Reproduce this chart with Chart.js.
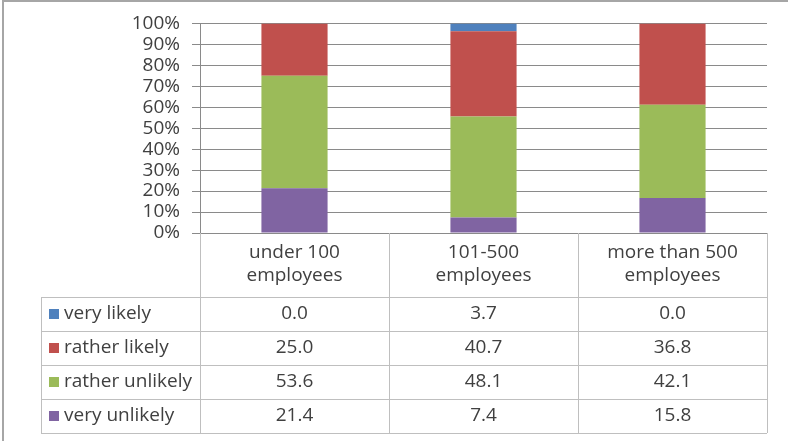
<!DOCTYPE html>
<html>
<head>
<meta charset="utf-8">
<script src="https://cdn.jsdelivr.net/npm/chart.js@4/dist/chart.umd.min.js"></script>
<style>
  html, body { margin: 0; padding: 0; background: #fff; }
  #wrap { width: 788px; height: 441px; position: relative; }
</style>
</head>
<body>
<div id="wrap"><canvas id="chart" width="788" height="441"></canvas></div>
<script>
// categories and series (values as printed in the data table, in %)
const categories = [['under 100', 'employees'], ['101-500', 'employees'], ['more than 500', 'employees']];
const veryLikely = [0.0, 3.7, 0.0];
const ratherLikely = [25.0, 40.7, 36.8];
const ratherUnlikely = [53.6, 48.1, 42.1];
const veryUnlikely = [21.4, 7.4, 15.8];
const yTicks = [0, 10, 20, 30, 40, 50, 60, 70, 80, 90, 100];

const FONT = '"Open Sans", "Liberation Sans", sans-serif';
const TEXT = '#404040';
const SIZE = 19;

// bottom to top in the stack
const series = [
    { label: 'very unlikely', data: veryUnlikely, color: '#8064A2' },
    { label: 'rather unlikely', data: ratherUnlikely, color: '#9BBB59' },
    { label: 'rather likely', data: ratherLikely, color: '#C0504D' },
    { label: 'very likely', data: veryLikely, color: '#4F81BD' },
];

// 100% stacked: share of each column total
const totals = categories.map((c, i) => series.reduce((s, d) => s + d.data[i], 0));

// ================= TABLE + FRAME =================
const dataTable = {
    id: 'dataTable',
    afterDraw(chart) {
        const ctx = chart.ctx;
        const x = chart.scales.x;
        const rowH = 34;
        const top = x.top;
        const y0 = x.bottom;
        const legendLeft = 41;
        const n = categories.length;
        const colW = (x.right - x.left) / n;

        ctx.save();
        // frame
        ctx.fillStyle = '#a6a6a6';
        ctx.fillRect(2, 0, 2, 441);
        ctx.fillRect(2, 0, 786, 2);

        ctx.strokeStyle = '#bfbfbf';
        ctx.lineWidth = 1;
        ctx.beginPath();
        for (let i = 0; i <= series.length; i++) {
            const y = Math.round(y0 + i * rowH) + 0.5;
            ctx.moveTo(legendLeft, y);
            ctx.lineTo(x.right, y);
        }
        for (let i = 0; i <= n; i++) {
            const xx = Math.round(x.left + i * colW) + 0.5;
            ctx.moveTo(xx, top);
            ctx.lineTo(xx, y0 + series.length * rowH);
        }
        ctx.moveTo(legendLeft + 0.5, y0);
        ctx.lineTo(legendLeft + 0.5, y0 + series.length * rowH);
        ctx.stroke();

        ctx.font = SIZE + 'px ' + FONT;
        ctx.textBaseline = 'middle';
        const rows = series.slice().reverse();
        rows.forEach((s, r) => {
            const cy = y0 + r * rowH + rowH / 2;
            ctx.fillStyle = s.color;
            ctx.fillRect(49, cy - 5, 10, 10);
            ctx.fillStyle = TEXT;
            ctx.textAlign = 'left';
            ctx.fillText(s.label, 64, cy);
            ctx.textAlign = 'center';
            s.data.forEach((v, i) => {
                ctx.fillText(v.toFixed(1), x.getPixelForTick(i), cy);
            });
        });
        ctx.restore();
    }
};

new Chart(document.getElementById('chart'), {
    type: 'bar',
    data: {
        labels: categories,
        datasets: series.map(s => ({
            label: s.label,
            data: s.data.map((v, i) => v / totals[i] * 100),
            backgroundColor: s.color,
            borderWidth: 0,
            categoryPercentage: 1,
            barPercentage: 0.35,
        }))
    },
    options: {
        responsive: false,
        animation: false,
        layout: { padding: { top: 23, right: 21, bottom: 144, left: 0 } },
        plugins: {
            legend: { display: false },
            tooltip: { enabled: false }
        },
        scales: {
            x: {
                stacked: true,
                grid: { display: false, drawTicks: false },
                border: { display: false },
                ticks: {
                    padding: 8,
                    color: TEXT,
                    font: { family: FONT, size: SIZE, lineHeight: 1.2 }
                },
                afterFit: scale => { scale.height = 64; }
            },
            y: {
                stacked: true,
                min: 0,
                max: 100,
                afterBuildTicks: scale => { scale.ticks = yTicks.map(v => ({ value: v })); },
                grid: { color: '#8a8a8a', tickLength: 8 },
                border: { color: '#8a8a8a' },
                ticks: {
                    autoSkip: false,
                    padding: 12,
                    color: TEXT,
                    font: { family: FONT, size: SIZE },
                    callback: v => v + '%'
                },
                afterFit: scale => { scale.width = 200; }
            }
        }
    },
    plugins: [dataTable]
});
</script>
</body>
</html>
